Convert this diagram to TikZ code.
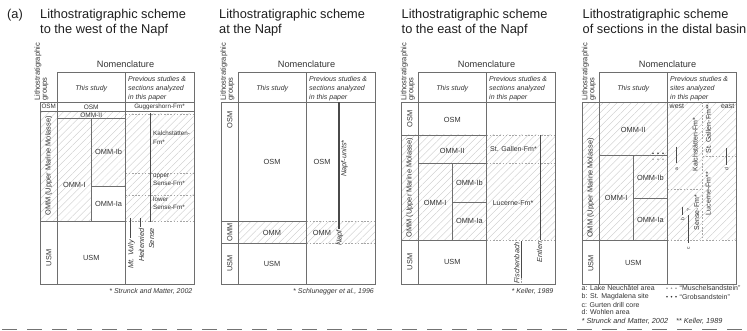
\documentclass[tikz,border=0pt]{standalone}
\usepackage{fontspec}
\setmainfont{Liberation Sans}
\definecolor{ink}{HTML}{333333}
\definecolor{rule}{HTML}{6E6E6E}
\definecolor{sect}{HTML}{4A4A4A}
\usetikzlibrary{patterns.meta}
\tikzset{
  frame/.style={draw=rule, line width=0.7pt},
  faint/.style={draw=black!35, line width=0.5pt, dash pattern=on 1.6pt off 1.6pt},
  section/.style={draw=sect, line width=1.5pt},
  sitebar/.style={draw=sect, line width=0.8pt},
  hatch/.style={pattern={Lines[angle=45,distance=5pt,line width=0.35pt]}, pattern color=black!22},
  title/.style={font=\fontsize{12.8}{15}\selectfont, text=black!88, inner sep=0pt, anchor=base west},
  unit/.style={font=\fontsize{7.4}{8}\selectfont, text=ink, inner sep=0pt},
  fm/.style={font=\fontsize{7}{8.5}\selectfont, text=ink, inner sep=0pt, align=left},
  sitename/.style={font=\itshape\fontsize{7.3}{8}\selectfont, text=ink, inner sep=0pt},
  cite/.style={font=\itshape\fontsize{7}{8}\selectfont, text=ink, inner sep=0pt, anchor=east},
  legend/.style={font=\fontsize{7}{8}\selectfont, text=ink, inner sep=0pt, anchor=west},
  tiny/.style={font=\fontsize{5}{5}\selectfont, text=ink, inner sep=0pt, rotate=90},
}

\begin{document}
\begin{tikzpicture}[x=1pt, y=-1pt]
  \useasboundingbox (0,0) rectangle (747,331);

  % titles
  \node[title] (tag) at (7,19) {(a)};
  \foreach \L/\i/\where in {40/1/to the west of the Napf, 219/2/at the Napf,
      401.5/3/to the east of the Napf, 582.5/4/of sections in the distal basin}{
    \node[title] (ttl\i) at (\L,19) {Lithostratigraphic scheme};
    \node[title] (ttlb\i) at (\L,34) {\where};
  }

  % OMM hatching
  \fill[hatch] (40.5,111.3) rectangle (125.5,186);
  \fill[hatch] (40.5,186) rectangle (91.7,221);
  \fill[hatch] (125.5,114) rectangle (193.5,221);
  \fill[hatch] (238,221.7) rectangle (375,243.3);
  \fill[hatch] (401.5,135) rectangle (555,240);
  \fill[hatch] (582.5,102.3) rectangle (736,240);

  % frames and headers
  \foreach \L/\i/\w/\g in {40.5/1/sections/1, 221.5/2/sections/6, 401.5/3/sections/6.5, 582.5/4/sites/6.5}{
    \draw[frame] (\L+16.5,72.7) rectangle (\L+153.5,102.3);
    \draw[frame] (\L+85,72.7) -- (\L+85,284);
    \draw[frame] (\L,102.3) rectangle (\L+153.5,284);
    \draw[frame] (\L+16.5,102.3) -- (\L+16.5,284);
    \node[font=\fontsize{9.2}{10}\selectfont, text=ink, inner sep=0pt] (nom\i) at (\L+85,64) {Nomenclature};
    \node[unit, font=\itshape\fontsize{7}{8}\selectfont] (study\i) at (\L+50.75,88.3) {This study};
    \node[fm, font=\itshape\fontsize{7}{9}\selectfont, anchor=west] (prev\i) at (\L+87.5,88.3)
      {Previous studies \&\\\w{} analyzed\\in this paper};
    \node[font=\fontsize{7.5}{7}\selectfont, text=ink, inner sep=0pt, rotate=90, anchor=west, align=left]
      (grp\i) at (\L+\g,100.5) {Lithostratigraphic\\groups};
  }

  % west of the Napf
  \draw[frame] (40.5,111.3) -- (193.5,111.3);
  \draw[faint] (125.5,114) -- (193.5,114);
  \draw[frame] (57,118.7) -- (125.5,118.7);
  \draw[frame] (91.7,118.7) -- (91.7,221);
  \draw[frame] (91.7,186) -- (125.5,186);
  \draw[frame] (40.5,221) -- (125.5,221);
  \foreach \y in {173.3,195,221}
    \draw[faint] (125.5,\y) -- (193.5,\y);
  \node[unit, font=\fontsize{6.3}{7}\selectfont] (g1osm) at (48.75,106.8) {OSM};
  \node[unit, rotate=90] (g1omm) at (48.75,166) {OMM (Upper Marine Molasse)};
  \node[unit, rotate=90] (g1usm) at (48.75,258) {USM};
  \node[unit, font=\fontsize{6.5}{7}\selectfont] (s1osm) at (91.25,106.9) {OSM};
  \node[unit, font=\fontsize{6.5}{7}\selectfont] (s1ommii) at (91.25,115.1) {OMM-II};
  \node[unit] (s1ommi) at (74.35,185) {OMM-I};
  \node[unit] (s1ommib) at (108.6,151.7) {OMM-Ib};
  \node[unit] (s1ommia) at (108.6,203.5) {OMM-Ia};
  \node[unit] (s1usm) at (91.25,258) {USM};
  \node[fm, font=\fontsize{6.3}{8.5}\selectfont] (p1gug) at (159.5,106.9) {Guggershorn-Fm*};
  \node[fm, font=\fontsize{6.3}{8.5}\selectfont, anchor=west] (p1kal) at (153,137.5) {Kalchstätten-\\Fm*};
  \node[fm, font=\fontsize{6.3}{8.5}\selectfont, anchor=west] (p1up) at (153,180) {upper\\Sense-Fm*};
  \node[fm, font=\fontsize{6.3}{8.5}\selectfont, anchor=west] (p1low) at (153,203) {lower\\Sense-Fm*};
  \draw[section] (150.7,113) -- (150.7,222.5);
  \node[sitename, rotate=90, anchor=east] (p1sense) at (151.5,228) {Sense};
  \draw[sitebar] (130.5,218) -- (130.5,238);
  \node[sitename, rotate=90, anchor=east] (p1vully) at (131.5,240) {Mt. Vully};
  \draw[sitebar] (140.7,218) -- (140.7,227);
  \node[sitename, rotate=90, anchor=east] (p1heit) at (141.5,228.5) {Heitenried};
  \node[cite] (c1) at (192.5,291.5) {* Strunck and Matter, 2002};

  % at the Napf
  \draw[frame] (221.5,221.7) -- (306.5,221.7);
  \draw[frame] (221.5,243.3) -- (306.5,243.3);
  \foreach \y in {221.7,243.3}
    \draw[faint] (306.5,\y) -- (375,\y);
  \node[unit, rotate=90] (g2osm) at (229.75,120) {OSM};
  \node[unit, rotate=90] (g2omm) at (229.75,232.5) {OMM};
  \node[unit, rotate=90] (g2usm) at (229.75,263.5) {USM};
  \node[unit] (s2osm) at (272,162) {OSM};
  \node[unit] (s2omm) at (272,232.5) {OMM};
  \node[unit] (s2usm) at (272,263.5) {USM};
  \node[unit] (p2osm) at (322,162) {OSM};
  \node[unit] (p2omm) at (322,232.5) {OMM};
  \draw[section] (339,102.3) -- (339,229.5);
  \node[sitename, rotate=90] (p2units) at (344.5,158.5) {Napf-units*};
  \node[sitename, rotate=90, anchor=east] (p2napf) at (339.8,230) {Napf};
  \node[cite] (c2) at (374,291.7) {* Schlunegger et al., 1996};

  % east of the Napf
  \draw[frame] (401.5,135) -- (486.5,135);
  \draw[frame] (418,163.3) -- (486.5,163.3);
  \draw[frame] (452.3,163.3) -- (452.3,240);
  \draw[frame] (452.3,202.7) -- (486.5,202.7);
  \draw[frame] (401.5,240) -- (486.5,240);
  \foreach \y in {135,163.3,240}
    \draw[faint] (486.5,\y) -- (555,\y);
  \node[unit, rotate=90] (g3osm) at (409.75,119) {OSM};
  \node[unit, rotate=90] (g3omm) at (409.75,187.5) {OMM (Upper Marine Molasse)};
  \node[unit, rotate=90] (g3usm) at (409.75,262) {USM};
  \node[unit] (s3osm) at (452.25,120) {OSM};
  \node[unit] (s3ommii) at (452.25,150.5) {OMM-II};
  \node[unit] (s3ommi) at (435.2,202.7) {OMM-I};
  \node[unit] (s3ommib) at (469.4,183) {OMM-Ib};
  \node[unit] (s3ommia) at (469.4,221) {OMM-Ia};
  \node[unit] (s3usm) at (452.25,262) {USM};
  \node[fm] (p3gal) at (513.5,148.5) {St. Gallen-Fm*};
  \node[fm] (p3luc) at (513,203.3) {Lucerne-Fm*};
  \draw[section] (540.7,135) -- (540.7,240);
  \node[sitename, rotate=90, anchor=east] (p3ent) at (539.5,241.5) {Entlen};
  \draw[sitebar] (521.7,241.5) -- (521.7,278);
  \draw[faint] (521.7,278) -- (521.7,284);
  \node[sitename, rotate=90, anchor=east] (p3fis) at (516.8,242) {Fischenbach};
  \node[cite] (c3) at (553.5,291.7) {* Keller, 1989};

  % distal basin
  \draw[frame] (599,155) -- (667.5,155);
  \draw[frame] (633.3,155) -- (633.3,240);
  \draw[frame] (633.3,198.3) -- (667.5,198.3);
  \draw[frame] (582.5,240) -- (667.5,240);
  \draw[faint] (667.5,240) -- (736,240);
  \draw[faint] (702.7,102.3) -- (702.7,240);
  \draw[faint] (667.5,189.3) -- (702.7,189.3);
  \draw[faint] (702.7,156) -- (736,156);
  \node[unit, rotate=90, anchor=west] (g4omm) at (590.75,238) {OMM (Upper Marine Molasse)};
  \node[unit, rotate=90] (g4usm) at (590.75,263.3) {USM};
  \node[unit] (s4ommii) at (633.25,130) {OMM-II};
  \node[unit] (s4ommi) at (616.2,198.3) {OMM-I};
  \node[unit] (s4ommib) at (650.4,178.3) {OMM-Ib};
  \node[unit] (s4ommia) at (650.4,220) {OMM-Ia};
  \node[unit] (s4usm) at (633.25,263.3) {USM};
  \foreach \x in {653,658,663}{
    \fill[black!80] (\x,153.3) circle (0.9pt);
    \fill[black!40] (\x,159.3) circle (0.9pt);
  }
  \node[fm, anchor=west] (p4west) at (669.5,106.7) {west};
  \node[fm, anchor=east] (p4east) at (734.5,106.7) {east};
  \node[fm, rotate=90] (p4kal) at (695,144.5) {Kalchstätten-Fm*};
  \node[fm, rotate=90] (p4gal) at (708.3,129) {St. Gallen-Fm**};
  \node[fm, rotate=90] (p4luc) at (708.3,193.5) {Lucerne-Fm**};
  \node[fm, rotate=90] (p4sen) at (696.7,212.5) {Sense-Fm*};
  \draw[sitebar] (676.7,146.7) -- (676.7,163.3);
  \node[tiny] (sa) at (676.7,169.5) {a};
  \draw[sitebar] (726.7,148) -- (726.7,165);
  \node[tiny] (sd) at (726.7,169.5) {d};
  \draw[sitebar] (682.7,206.7) -- (682.7,215);
  \node[tiny] (sb) at (682.7,218.7) {b};
  \node[tiny] (sq) at (688.5,210.5) {?};
  \draw[sitebar, line width=1.1pt] (688.5,215.5) -- (688.5,243.3);
  \node[tiny] (sc) at (688.5,248) {c};

  % legend
  \node[legend] (la) at (581.5,288.3) {a: Lake Neuchâtel area};
  \node[legend] (lb) at (581.5,296.7) {b: St. Magdalena site};
  \node[legend] (lc) at (581.5,304.5) {c: Gurten drill core};
  \node[legend] (ld) at (581.5,312.3) {d: Wohlen area};
  \node[legend, font=\itshape\fontsize{7.3}{8}\selectfont] (lnote) at (581.5,321.7)
    {* Strunck and Matter, 2002\hspace{8pt}** Keller, 1989};
  \foreach \x in {667,671.5,676}{
    \fill[black!40] (\x,288.3) circle (0.9pt);
    \fill[black!80] (\x,296.7) circle (0.9pt);
  }
  \node[legend] (lmus) at (679.5,288.3) {``Muschelsandstein''};
  \node[legend] (lgro) at (679.5,296.7) {``Grobsandstein''};

  \draw[black!55, line width=1.2pt, dash pattern=on 15pt off 10pt] (2,329.5) -- (747,329.5);
\end{tikzpicture}
\end{document}
